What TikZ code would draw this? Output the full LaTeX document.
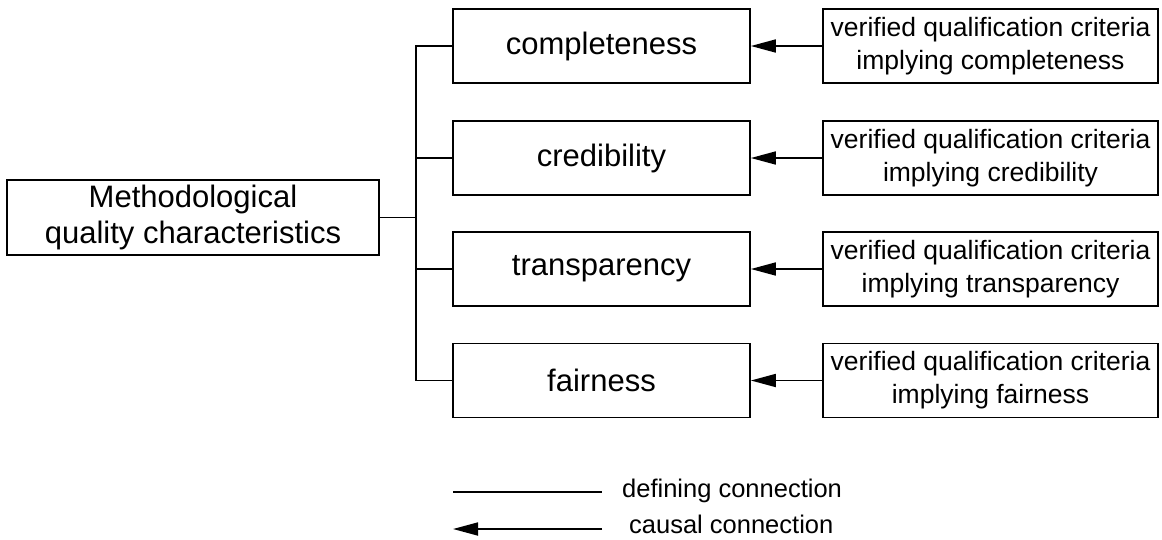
\documentclass[tikz,border=0pt]{standalone}
\usepackage{fontspec}
\setmainfont{Liberation Sans}
\usetikzlibrary{arrows.meta}
\tikzset{
  bigbox/.style={draw, line width=1.7pt, inner sep=0pt, align=center, font=\fontsize{31}{36}\selectfont},
  smallbox/.style={draw, line width=1.7pt, inner sep=0pt, align=center, minimum width=335pt, minimum height=74pt, font=\fontsize{26.5}{33}\selectfont},
  midbox/.style={bigbox, minimum width=297pt, minimum height=74pt},
  defline/.style={line width=1.7pt},
  causal/.style={line width=1.7pt, -{Triangle[length=25pt,width=13pt]}},
  legtext/.style={anchor=base west, inner sep=0pt, font=\fontsize{25.5}{30}\selectfont}
}
\begin{document}
\begin{tikzpicture}[x=1pt,y=-1pt]
\useasboundingbox (0,0) rectangle (1162,539);
\node[bigbox, minimum width=372pt, minimum height=75pt] (main) at (193,217.5) {Methodological\\quality characteristics};
\node[midbox] (c1) at (601.5,46) {completeness};
\node[midbox] (c2) at (601.5,158) {credibility};
\node[midbox] (c3) at (601.5,269) {transparency};
\node[midbox] (c4) at (601.5,380.5) {fairness};
\node[smallbox] (v1) at (990.5,46) {verified qualification criteria\\implying completeness};
\node[smallbox] (v2) at (990.5,158) {verified qualification criteria\\implying credibility};
\node[smallbox] (v3) at (990.5,269) {verified qualification criteria\\implying transparency};
\node[smallbox] (v4) at (990.5,380.5) {verified qualification criteria\\implying fairness};
\coordinate (bus) at (416,217.5);
\draw[defline] (main.east) -- (bus);
\draw[defline] (c1.west) -| (bus) |- (c4.west);
\draw[defline] (c2.west) -- (c2.west -| bus);
\draw[defline] (c3.west) -- (c3.west -| bus);
\foreach \i in {1,2,3,4} \draw[causal] (v\i.west) -- (c\i.east);
\coordinate (l1a) at (453,492);
\coordinate (l1b) at (602,492);
\coordinate (l2a) at (453,529);
\coordinate (l2b) at (602,529);
\draw[defline] (l1a) -- (l1b);
\draw[causal] (l2b) -- (l2a);
\node[legtext] (t1) at (622,497.5) {defining connection};
\node[legtext] (t2) at (629,533.5) {causal connection};
\end{tikzpicture}
\end{document}
